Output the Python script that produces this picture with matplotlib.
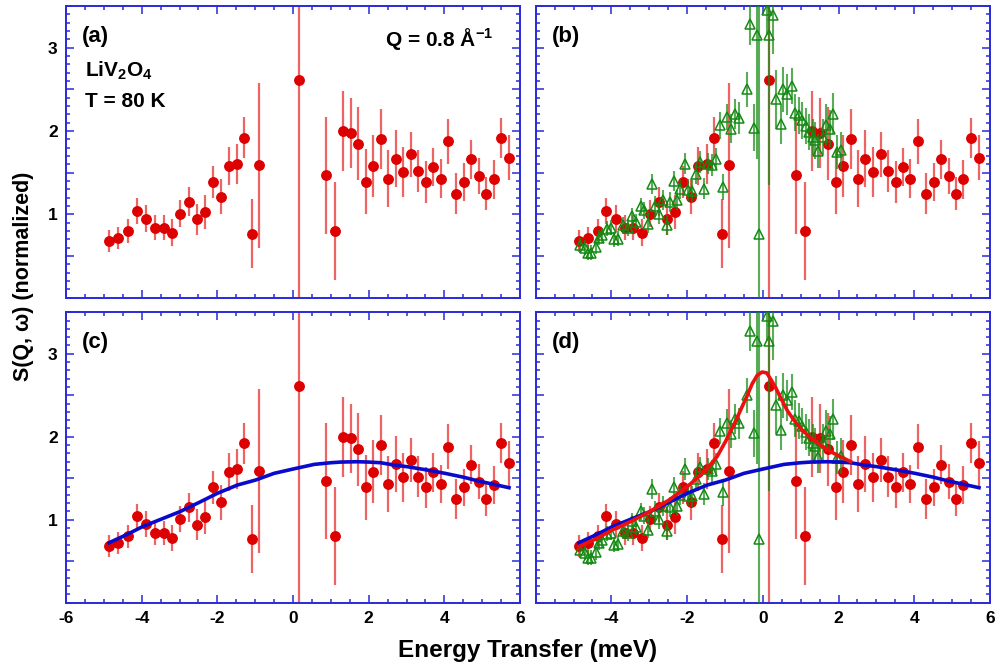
import matplotlib
matplotlib.use('Agg')
import matplotlib.pyplot as plt
from matplotlib.ticker import MultipleLocator, FuncFormatter

# ---------------- data ----------------
red_x = [-4.86, -4.62, -4.36, -4.13, -3.88, -3.65, -3.42, -3.19, -2.98, -2.75,
         -2.54, -2.32, -2.11, -1.91, -1.70, -1.48, -1.30, -1.09, -0.90, 0.15,
         0.88, 1.11, 1.31, 1.52, 1.72, 1.92, 2.11, 2.32, 2.51, 2.71,
         2.92, 3.11, 3.30, 3.52, 3.71, 3.90, 4.11, 4.31, 4.51, 4.70,
         4.91, 5.11, 5.30, 5.51, 5.71]
red_y = [0.68, 0.72, 0.80, 1.04, 0.95, 0.84, 0.84, 0.78, 1.01, 1.15,
         0.94, 1.03, 1.39, 1.21, 1.58, 1.61, 1.92, 0.77, 1.59, 2.61,
         1.47, 0.80, 2.00, 1.98, 1.85, 1.39, 1.58, 1.90, 1.43, 1.67,
         1.51, 1.72, 1.52, 1.39, 1.57, 1.43, 1.88, 1.25, 1.39, 1.66,
         1.46, 1.25, 1.42, 1.92, 1.68]
red_err = [0.135, 0.13, 0.14, 0.155, 0.16, 0.15, 0.15, 0.16, 0.16, 0.175,
           0.19, 0.20, 0.195, 0.21, 0.23, 0.24, 0.245, 0.41, 0.99, 5.0,
           0.70, 0.59, 0.48, 0.42, 0.44, 0.39, 0.375, 0.36, 0.34, 0.34,
           0.30, 0.27, 0.25, 0.25, 0.23, 0.23, 0.27, 0.245, 0.225, 0.235,
           0.215, 0.20, 0.23, 0.24, 0.27]

green_x = [-4.84, -4.70, -4.63, -4.53, -4.42, -4.33, -4.25, -4.11, -4.00, -3.94,
           -3.83, -3.69, -3.57, -3.45, -3.34, -3.23, -3.13, -3.04, -2.94, -2.84,
           -2.74, -2.63, -2.54, -2.44, -2.35, -2.26, -2.18, -2.06, -1.98, -1.87,
           -1.76, -1.67, -1.56, -1.44, -1.34, -1.23, -1.14, -1.05, -0.94, -0.84,
           -0.73, -0.63, -0.43, -0.33, -0.24, -0.15, -0.10, 0.11, 0.16, 0.26,
           0.36, 0.47, 0.54, 0.64, 0.78, 0.86, 0.95, 1.04, 1.13, 1.23,
           1.32, 1.39, 1.45, 1.58, 1.67, 1.77, 1.86, 1.95, 2.07]
green_y = [0.63, 0.60, 0.54, 0.54, 0.61, 0.72, 0.75, 0.83, 0.84, 0.70,
           0.71, 0.87, 0.84, 0.98, 0.91, 1.10, 1.05, 0.88, 1.37, 1.10,
           1.01, 1.17, 0.87, 1.15, 1.40, 1.17, 1.30, 1.61, 1.29, 1.28,
           1.49, 1.63, 1.31, 1.61, 1.59, 1.67, 2.07, 1.33, 2.17, 2.03,
           2.21, 2.16, 2.50, 3.28, 2.04, 3.15, 0.77, 3.45, 3.15, 3.39,
           2.38, 2.08, 2.50, 2.44, 2.54, 2.22, 2.19, 2.13, 2.06, 1.99,
           1.93, 1.89, 1.76, 1.93, 2.07, 2.03, 2.21, 1.75, 1.77]
green_err = [0.09, 0.09, 0.09, 0.09, 0.09, 0.09, 0.09, 0.09, 0.09, 0.09,
             0.09, 0.10, 0.10, 0.10, 0.10, 0.10, 0.10, 0.10, 0.12, 0.12,
             0.12, 0.12, 0.12, 0.12, 0.12, 0.12, 0.12, 0.13, 0.13, 0.13,
             0.13, 0.13, 0.13, 0.13, 0.13, 0.13, 0.16, 0.16, 0.16, 0.17,
             0.18, 0.19, 0.21, 0.25, 0.28, 1.48, 5.0, 0.30, 1.80, 0.46,
             0.35, 0.24, 0.27, 0.25, 0.22, 0.22, 0.22, 0.22, 0.22, 0.22,
             0.22, 0.22, 0.20, 0.22, 0.25, 0.22, 0.25, 0.20, 0.22]

blue_x = [-4.86, -4.38, -3.98, -3.50, -2.99, -2.48, -2.00, -1.47, -0.99, -0.50,
          0.00, 0.56, 1.00, 1.26, 1.70, 2.00, 2.32, 2.67, 3.02, 3.55,
          4.02, 4.52, 4.87, 5.31, 5.71]
blue_y = [0.723, 0.824, 0.916, 1.004, 1.097, 1.209, 1.318, 1.418, 1.478, 1.559,
          1.611, 1.667, 1.687, 1.695, 1.699, 1.695, 1.687, 1.659, 1.639, 1.599,
          1.559, 1.511, 1.470, 1.426, 1.386]

fit_x = [-4.86, -4.38, -3.98, -3.50, -2.99, -2.48, -2.00, -1.74, -1.47, -1.21,
         -0.99, -0.77, -0.59, -0.41, -0.28, -0.15, -0.02, 0.10, 0.20, 0.33,
         0.47, 0.64, 0.82, 1.04, 1.26, 1.52, 1.79, 2.05, 2.32]
fit_y = [0.675, 0.775, 0.876, 0.976, 1.097, 1.237, 1.398, 1.50, 1.619, 1.76,
         1.94, 2.14, 2.32, 2.50, 2.64, 2.74, 2.78, 2.77, 2.70, 2.60,
         2.47, 2.32, 2.20, 2.08, 1.99, 1.90, 1.82, 1.76, 1.70]

x_ticks = [-6, -4, -2, 0, 2, 4, 6]
y_ticks = [1, 2, 3]
panel_labels = ['(a)', '(b)', '(c)', '(d)']

# ---------------- style ----------------
plt.rcParams['font.family'] = ['Liberation Sans', 'DejaVu Sans']
plt.rcParams['font.weight'] = 'bold'

AX_COL = '#2a2ad8'
RED = '#dd0000'
RED_ERR = '#e83030'
GREEN = '#138a13'
BLUE = '#0a0acc'

W, H = 997, 667
fig = plt.figure(figsize=(W / 100, H / 100), dpi=100)


def ax_at(l, t, r, b):
    return fig.add_axes([l / W, 1 - b / H, (r - l) / W, (b - t) / H])


axa = ax_at(66, 6, 520, 297.7)
axb = ax_at(535.7, 6, 990, 297.7)
axc = ax_at(66, 312.3, 520, 602.7)
axd = ax_at(535.7, 312.3, 990, 602.7)
axes = [axa, axb, axc, axd]


def yfmt(v, p):
    r = round(v)
    if abs(v - r) < 1e-6 and int(r) in y_ticks:
        return str(int(r))
    return ''


for i, ax in enumerate(axes):
    ax.set_xlim(-6, 6)
    ax.set_ylim(0, 3.5)
    for s in ax.spines.values():
        s.set_color(AX_COL)
        s.set_linewidth(1.4)
    ax.xaxis.set_major_locator(MultipleLocator(2))
    ax.xaxis.set_minor_locator(MultipleLocator(0.5))
    ax.yaxis.set_major_locator(MultipleLocator(0.5))
    ax.yaxis.set_minor_locator(MultipleLocator(0.1))
    ax.tick_params(which='both', direction='in', top=True, right=True,
                   color=AX_COL, width=1.1, labelsize=12.5, labelcolor='black')
    ax.tick_params(which='major', length=5.5, pad=6)
    ax.tick_params(which='minor', length=3)
    ax.yaxis.set_major_formatter(FuncFormatter(yfmt))
    if i in (0, 1):
        ax.tick_params(labelbottom=False)
    if i in (1, 3):
        ax.tick_params(labelleft=False)
    for lab in ax.get_xticklabels() + ax.get_yticklabels():
        lab.set_fontweight('bold')

axc.xaxis.set_major_formatter(FuncFormatter(lambda v, p: '%d' % round(v) if round(v) in x_ticks else ''))
axd.xaxis.set_major_formatter(FuncFormatter(lambda v, p: '%d' % round(v) if (round(v) in x_ticks and round(v) != -6) else ''))

for i, ax in enumerate(axes):
    # red data
    ax.errorbar(red_x, red_y, yerr=red_err, fmt='none', ecolor=RED_ERR,
                elinewidth=1.6, alpha=0.75, capsize=0, zorder=2)
    ax.plot(red_x, red_y, 'o', ms=6.8, color=RED, mec=RED, zorder=3)
    if i in (1, 3):
        ax.errorbar(green_x, green_y, yerr=green_err, fmt='none', ecolor=GREEN,
                    elinewidth=1.5, alpha=0.7, capsize=0, zorder=4)
        ax.plot(green_x, green_y, '^', ms=7.5, mfc='none', mec=GREEN,
                mew=1.1, zorder=5)
    if i in (2, 3):
        ax.plot(blue_x, blue_y, '-', color=BLUE, lw=2.6, zorder=6)
    if i == 3:
        ax.plot(fit_x, fit_y, '-', color='#ee1010', lw=2.6, zorder=7)
    ax.text(0.036, 0.897, panel_labels[i], transform=ax.transAxes,
            fontsize=16, fontweight='bold', ha='left', va='center')

axa.text(0.9405, 0.862, 'Q = 0.8 Å$\\mathregular{^{-1}}$', transform=axa.transAxes,
         fontsize=15, fontweight='bold', ha='right', va='baseline')
axa.text(0.042, 0.756, 'LiV$\\mathregular{_2}$O$\\mathregular{_4}$', transform=axa.transAxes,
         fontsize=15, fontweight='bold', ha='left', va='baseline')
axa.text(0.042, 0.653, 'T = 80 K', transform=axa.transAxes,
         fontsize=15, fontweight='bold', ha='left', va='baseline')

fig.text(528 / W, 1 - 657.3 / H, 'Energy Transfer (meV)', ha='center', va='baseline',
         fontsize=17.5, fontweight='bold')
fig.text(23 / W, 1 - 276 / H, 'S(Q, ω) (normalized)', rotation=90, ha='center',
         va='center', fontsize=15.5, fontweight='bold')

fig.savefig('out.png', dpi=100)
